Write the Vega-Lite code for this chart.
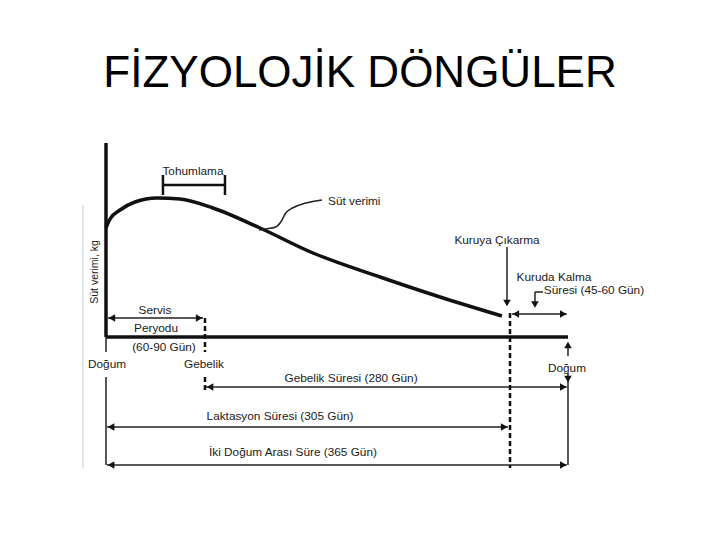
{
  "$schema": "https://vega.github.io/schema/vega-lite/v6.json",
  "width": 720,
  "height": 540,
  "padding": 0,
  "autosize": {"type": "fit", "contains": "padding"},
  "background": "white",
  "config": {"view": {"stroke": null}},
  "datasets": {
    "curve": [
      {"i": 0, "day": 0, "yield": 10.9},
      {"i": 1, "day": 3.2, "yield": 11.8},
      {"i": 2, "day": 11.1, "yield": 12.7},
      {"i": 3, "day": 22.9, "yield": 13.5},
      {"i": 4, "day": 40.3, "yield": 13.9},
      {"i": 5, "day": 58.5, "yield": 13.8},
      {"i": 6, "day": 84.5, "yield": 12.9},
      {"i": 7, "day": 121.7, "yield": 10.9},
      {"i": 8, "day": 163.5, "yield": 8.4},
      {"i": 9, "day": 216.5, "yield": 6.0},
      {"i": 10, "day": 263.9, "yield": 4.0},
      {"i": 11, "day": 312.8, "yield": 2.1}
    ],
    "leader": [
      {"i": 0, "day": 170.6, "yield": 13.7},
      {"i": 1, "day": 147.3, "yield": 12.9},
      {"i": 2, "day": 142.0, "yield": 12.4},
      {"i": 3, "day": 138.1, "yield": 11.5},
      {"i": 4, "day": 134.1, "yield": 11.0},
      {"i": 5, "day": 126.2, "yield": 10.8},
      {"i": 6, "day": 121.0, "yield": 10.7}
    ],
    "segments": [
      {"type": "thick", "x1": 0, "x2": 0, "y1": 19.4, "y2": 0},
      {"type": "thick", "x1": 0, "x2": 365, "y1": 0, "y2": 0},
      {"type": "bracket", "x1": 45, "x2": 94, "y1": 15.2, "y2": 15.2},
      {"type": "bracket", "x1": 45, "x2": 45, "y1": 16.2, "y2": 14.2},
      {"type": "bracket", "x1": 94, "x2": 94, "y1": 16.2, "y2": 14.2},
      {"type": "thin", "x1": 0, "x2": 0, "y1": 0, "y2": -1.5},
      {"type": "thin", "x1": 0, "x2": 0, "y1": -4.0, "y2": -12.8},
      {"type": "thin", "x1": 365, "x2": 365, "y1": -0.6, "y2": -1.9},
      {"type": "thin", "x1": 365, "x2": 365, "y1": -3.6, "y2": -12.8},
      {"type": "thin", "x1": 1.6, "x2": 76.6, "y1": 1.9, "y2": 1.9},
      {"type": "thin", "x1": 79, "x2": 364, "y1": -5.0, "y2": -5.0},
      {"type": "thin", "x1": 0.8, "x2": 317.6, "y1": -9.0, "y2": -9.0},
      {"type": "thin", "x1": 0.8, "x2": 364, "y1": -12.8, "y2": -12.8},
      {"type": "thin", "x1": 320.7, "x2": 364, "y1": 2.3, "y2": 2.3},
      {"type": "thin", "x1": 316.8, "x2": 316.8, "y1": 9.0, "y2": 3.2},
      {"type": "thin", "x1": 345.2, "x2": 338.9, "y1": 4.5, "y2": 4.5},
      {"type": "thin", "x1": 338.9, "x2": 338.9, "y1": 4.5, "y2": 3.2},
      {"type": "dashed", "x1": 78.2, "x2": 78.2, "y1": 1.9, "y2": -1.5},
      {"type": "dashed", "x1": 78.2, "x2": 78.2, "y1": -4.0, "y2": -5.5},
      {"type": "dashed", "x1": 319.2, "x2": 319.2, "y1": 2.4, "y2": -13.1},
      {"type": "faint", "x1": -18.2, "x2": -18.2, "y1": 13.2, "y2": -13.1}
    ],
    "heads": [
      {"day": 4.6, "y": 1.9, "dir": "left"},
      {"day": 73.6, "y": 1.9, "dir": "right"},
      {"day": 82.2, "y": -5.0, "dir": "left"},
      {"day": 361.3, "y": -5.0, "dir": "right"},
      {"day": 4.0, "y": -9.0, "dir": "left"},
      {"day": 314.6, "y": -9.0, "dir": "right"},
      {"day": 4.0, "y": -12.8, "dir": "left"},
      {"day": 361.3, "y": -12.8, "dir": "right"},
      {"day": 323.8, "y": 2.3, "dir": "left"},
      {"day": 361.3, "y": 2.3, "dir": "right"},
      {"day": 316.8, "y": 3.4, "dir": "down"},
      {"day": 338.9, "y": 3.25, "dir": "down"},
      {"day": 365, "y": -0.8, "dir": "up"},
      {"day": 365, "y": -4.2, "dir": "down"}
    ],
    "labels": [
      {"text": "Tohumlama", "day": 68.7, "y": 16.6},
      {"text": "Servis", "day": 38.7, "y": 2.7},
      {"text": "Peryodu", "day": 39.5, "y": 0.9},
      {"text": "(60-90 Gün)", "day": 45.8, "y": -1.0},
      {"text": "Doğum", "day": 0.8, "y": -2.7},
      {"text": "Gebelik", "day": 77.4, "y": -2.7},
      {"text": "Gebelik Süresi (280 Gün)", "day": 193.6, "y": -4.1},
      {"text": "Doğum", "day": 364.2, "y": -3.1},
      {"text": "Laktasyon Süresi (305 Gün)", "day": 137.5, "y": -7.9},
      {"text": "İki Doğum Arası Süre (365 Gün)", "day": 147.7, "y": -11.5},
      {"text": "Kuruya Çıkarma", "day": 308.9, "y": 9.7},
      {"text": "Kuruda Kalma", "day": 353.9, "y": 6.0},
      {"text": "Süresi (45-60 Gün)", "day": 385.5, "y": 4.7}
    ],
    "leftLabels": [
      {"text": "Süt verimi", "day": 175.4, "y": 13.6}
    ],
    "ylabel": [
      {"text": "Süt verimi, kg", "day": -8.7, "y": 6.5}
    ],
    "title": [
      {"text": "FİZYOLOJİK DÖNGÜLER", "day": 200.7, "y": 25.0}
    ]
  },
  "layer": [
    {
      "data": {"name": "segments"},
      "transform": [{"filter": "datum.type === 'faint'"}],
      "mark": {"type": "rule", "stroke": "#dcdce0", "strokeWidth": 1.5},
      "encoding": {
        "x": {"field": "x1", "type": "quantitative", "scale": {"domain": [-83.74, 485.09], "nice": false, "zero": false}, "axis": null},
        "x2": {"field": "x2"},
        "y": {"field": "y1", "type": "quantitative", "scale": {"domain": [-20.3, 33.7], "nice": false, "zero": false}, "axis": null},
        "y2": {"field": "y2"}
      }
    },
    {
      "data": {"name": "segments"},
      "transform": [{"filter": "datum.type === 'thick'"}],
      "mark": {"type": "rule", "stroke": "#111", "strokeWidth": 3.5},
      "encoding": {
        "x": {"field": "x1", "type": "quantitative"},
        "x2": {"field": "x2"},
        "y": {"field": "y1", "type": "quantitative"},
        "y2": {"field": "y2"}
      }
    },
    {
      "data": {"name": "segments"},
      "transform": [{"filter": "datum.type === 'bracket'"}],
      "mark": {"type": "rule", "stroke": "#111", "strokeWidth": 2.5},
      "encoding": {
        "x": {"field": "x1", "type": "quantitative"},
        "x2": {"field": "x2"},
        "y": {"field": "y1", "type": "quantitative"},
        "y2": {"field": "y2"}
      }
    },
    {
      "data": {"name": "segments"},
      "transform": [{"filter": "datum.type === 'thin'"}],
      "mark": {"type": "rule", "stroke": "#222", "strokeWidth": 1.5},
      "encoding": {
        "x": {"field": "x1", "type": "quantitative"},
        "x2": {"field": "x2"},
        "y": {"field": "y1", "type": "quantitative"},
        "y2": {"field": "y2"}
      }
    },
    {
      "data": {"name": "segments"},
      "transform": [{"filter": "datum.type === 'dashed'"}],
      "mark": {"type": "rule", "stroke": "#111", "strokeWidth": 2.5, "strokeDash": [5, 3]},
      "encoding": {
        "x": {"field": "x1", "type": "quantitative"},
        "x2": {"field": "x2"},
        "y": {"field": "y1", "type": "quantitative"},
        "y2": {"field": "y2"}
      }
    },
    {
      "data": {"name": "curve"},
      "mark": {"type": "line", "stroke": "#111", "strokeWidth": 3.5, "interpolate": "monotone"},
      "encoding": {
        "x": {"field": "day", "type": "quantitative"},
        "y": {"field": "yield", "type": "quantitative"},
        "order": {"field": "i"}
      }
    },
    {
      "data": {"name": "leader"},
      "mark": {"type": "line", "stroke": "#222", "strokeWidth": 1.5, "interpolate": "monotone"},
      "encoding": {
        "x": {"field": "day", "type": "quantitative"},
        "y": {"field": "yield", "type": "quantitative"},
        "order": {"field": "i"}
      }
    },
    {
      "data": {"name": "heads"},
      "mark": {"type": "point", "filled": true, "color": "#111", "size": 58, "opacity": 1},
      "encoding": {
        "x": {"field": "day", "type": "quantitative"},
        "y": {"field": "y", "type": "quantitative"},
        "shape": {"field": "dir", "type": "nominal", "scale": {"domain": ["left", "right", "up", "down"], "range": ["triangle-left", "triangle-right", "triangle-up", "triangle-down"]}, "legend": null}
      }
    },
    {
      "data": {"name": "labels"},
      "mark": {"type": "text", "font": "Liberation Sans", "fontSize": 11.8, "color": "#1a1a1a", "align": "center", "baseline": "middle"},
      "encoding": {
        "x": {"field": "day", "type": "quantitative"},
        "y": {"field": "y", "type": "quantitative"},
        "text": {"field": "text"}
      }
    },
    {
      "data": {"name": "leftLabels"},
      "mark": {"type": "text", "font": "Liberation Sans", "fontSize": 11.8, "color": "#1a1a1a", "align": "left", "baseline": "middle"},
      "encoding": {
        "x": {"field": "day", "type": "quantitative"},
        "y": {"field": "y", "type": "quantitative"},
        "text": {"field": "text"}
      }
    },
    {
      "data": {"name": "ylabel"},
      "mark": {"type": "text", "font": "Liberation Sans", "fontSize": 10.5, "color": "#1a1a1a", "align": "center", "baseline": "middle", "angle": 270},
      "encoding": {
        "x": {"field": "day", "type": "quantitative"},
        "y": {"field": "y", "type": "quantitative"},
        "text": {"field": "text"}
      }
    },
    {
      "data": {"name": "title"},
      "mark": {"type": "text", "font": "Liberation Sans", "fontSize": 44, "color": "#000", "align": "center", "baseline": "alphabetic"},
      "encoding": {
        "x": {"field": "day", "type": "quantitative"},
        "y": {"field": "y", "type": "quantitative"},
        "text": {"field": "text"}
      }
    }
  ]
}
